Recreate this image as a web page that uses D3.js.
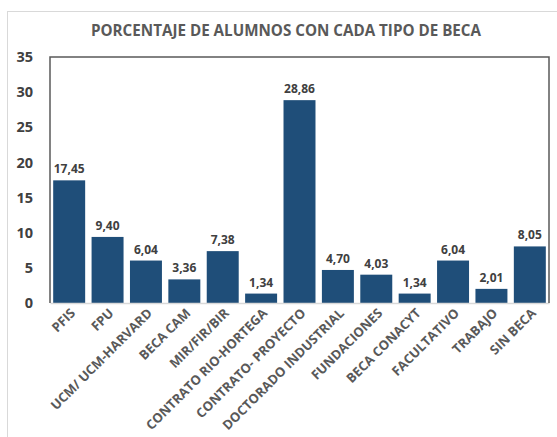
<!DOCTYPE html>
<html>
<head>
<meta charset="utf-8">
<script src="https://cdn.jsdelivr.net/npm/d3@7"></script>
<style>
  html, body { margin: 0; padding: 0; background: #ffffff; }
  svg { display: block; }
</style>
</head>
<body>
<svg id="chart" width="557" height="437"></svg>
<script>
const categories = ["PFIS", "FPU", "UCM/ UCM-HARVARD", "BECA CAM", "MIR/FIR/BIR",
  "CONTRATO RIO-HORTEGA", "CONTRATO- PROYECTO", "DOCTORADO INDUSTRIAL",
  "FUNDACIONES", "BECA CONACYT", "FACULTATIVO", "TRABAJO", "SIN BECA"];
const values = [17.45, 9.40, 6.04, 3.36, 7.38, 1.34, 28.86, 4.70, 4.03, 1.34, 6.04, 2.01, 8.05];
const yTicks = [0, 5, 10, 15, 20, 25, 30, 35];
const title = "PORCENTAJE DE ALUMNOS CON CADA TIPO DE BECA";

(function () {
const svg = d3.select("#chart");
const font = "'Open Sans', 'Liberation Sans', sans-serif";
const pLeft = 50, pRight = 549, pTop = 57, pBottom = 303;

// outer chart border
svg.append("rect")
  .attr("x", 7.5).attr("y", 11.5).attr("width", 560).attr("height", 440)
  .attr("fill", "none").attr("stroke", "#d9d9d9").attr("stroke-width", 1);

const x = d3.scaleBand().domain(categories).range([pLeft, pRight])
  .paddingInner(0.167).paddingOuter(0.083);
const y = d3.scaleLinear().domain([0, 35]).range([pBottom, pTop]);

// title
svg.append("text")
  .attr("x", 286).attr("y", 36)
  .attr("text-anchor", "middle")
  .attr("font-family", font).attr("font-weight", 700).attr("font-size", 15.2)
  .attr("fill", "#595959")
  .text(title);

// bars
svg.append("g").selectAll("rect").data(values).join("rect")
  .attr("x", (d, i) => x(categories[i]))
  .attr("y", d => y(d))
  .attr("width", x.bandwidth())
  .attr("height", d => y(0) - y(d))
  .attr("fill", "#1f4e79");

// data labels
const fmt = d3.format(".2f");
svg.append("g").selectAll("text").data(values).join("text")
  .attr("x", (d, i) => x(categories[i]) + x.bandwidth() / 2)
  .attr("y", d => y(d) - 7)
  .attr("text-anchor", "middle")
  .attr("font-family", font).attr("font-weight", 700).attr("font-size", 12)
  .attr("fill", "#404040")
  .text(d => fmt(d).replace(".", ","));

// y axis
const yAxis = d3.axisLeft(y).tickValues(yTicks).tickSize(0).tickPadding(17);
const gy = svg.append("g").attr("transform", `translate(${pLeft},0)`).call(yAxis);
gy.select(".domain").remove();
gy.selectAll("text")
  .attr("font-family", font).attr("font-weight", 700).attr("font-size", 14.5)
  .attr("fill", "#404040");

// x axis
const xAxis = d3.axisBottom(x).tickSize(0).tickPadding(0);
const gx = svg.append("g").attr("transform", `translate(0,${pBottom})`).call(xAxis);
gx.select(".domain").attr("stroke", "#d9d9d9").attr("stroke-width", 1.5);
gx.selectAll("text")
  .attr("font-family", font).attr("font-weight", 700).attr("font-size", 13)
  .attr("fill", "#595959")
  .attr("text-anchor", "end")
  .attr("dy", 0)
  .attr("transform", "translate(7,11) rotate(-45)");

// plot frame (left, top, right)
svg.append("path")
  .attr("d", `M${pLeft},${pBottom} V${pTop} H${pRight} V${pBottom}`)
  .attr("fill", "none").attr("stroke", "#595959").attr("stroke-width", 1.5);
})();
</script>
</body>
</html>
